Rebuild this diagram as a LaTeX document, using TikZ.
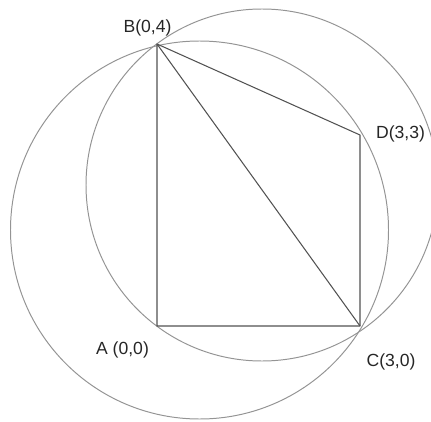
\documentclass[tikz,border=0pt]{standalone}
\usepackage{fontspec}
\setmainfont{Liberation Sans}
\usepackage{tikz}
\usetikzlibrary{positioning}

\begin{document}
\begin{tikzpicture}[
x=0.025cm,
y=0.025cm,
every node/.style={font=\fontsize{12.5}{14}\selectfont},
side/.style={draw=black!68,line width=0.75pt,line join=round},
ring/.style={draw=black!42,line width=0.7pt},
ptlbl/.style={inner sep=1pt,text=black!85}
]
\useasboundingbox (0,0) rectangle (431,421);
% points
\coordinate (ptA) at (157,95);
\coordinate (ptB) at (157,377);
\coordinate (ptC) at (360,95);
\coordinate (ptD) at (360,286);
% circle centres
\coordinate (oabc) at (262,236);
\coordinate (obcd) at (199.5,191);

\draw[ring] (oabc) circle[radius=176];
\draw[ring] (obcd) circle[radius=189];

\draw[side] (ptA) -- (ptB) -- (ptD) -- (ptC) -- cycle;
\draw[side] (ptB) -- (ptC);

\node[ptlbl] (lblB) at (147.5,393.5) {B(0,4)};
\node[ptlbl] (lblD) at (400.5,287) {D(3,3)};
\node[ptlbl] (lblA) at (122.5,71) {A (0,0)};
\node[ptlbl] (lblC) at (391,59) {C(3,0)};
\end{tikzpicture}
\end{document}
